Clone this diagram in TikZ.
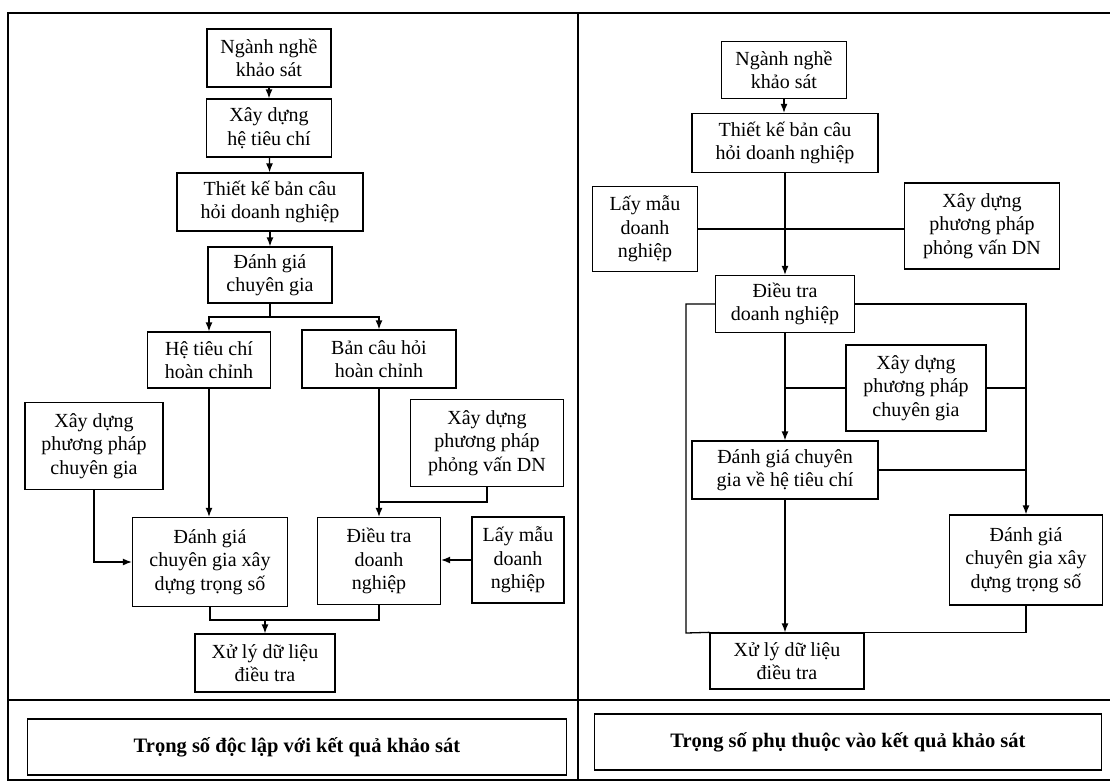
\documentclass[tikz,border=0pt]{standalone}
\usepackage{fontspec}
\setmainfont{Liberation Serif}
\usetikzlibrary{arrows.meta}
\begin{document}
\begin{tikzpicture}[x=1pt, y=-1pt, >={Latex[length=9pt, width=7pt]}, line width=1.3pt,
    font=\fontsize{20}{23.5}\selectfont,
    blk/.style={draw, align=center, inner sep=1pt}]
    \useasboundingbox (0,0) rectangle (1110,782);

    \draw[line width=1.8pt] (1110,13) -- (8,13) -- (8,780) -- (1110,780);
    \draw[line width=1.6pt] (578,13) -- (578,780);
    \draw[line width=1.6pt] (8,700) -- (1110,700);

    \node[blk, minimum width=124pt, minimum height=58pt] (l1) at (269, 58)  {Ngành nghề \\ khảo sát};
    \node[blk, minimum width=125pt, minimum height=58pt] (l2) at (269,128)  {Xây dựng \\ hệ tiêu chí};
    \node[blk, minimum width=186pt, minimum height=58pt] (l3) at (270,202)  {Thiết kế bản câu \\ hỏi doanh nghiệp};
    \node[blk, minimum width=124pt, minimum height=56pt] (l4) at (270,275)  {Đánh giá \\ chuyên gia};
    \node[blk, minimum width=123pt, minimum height=56pt] (l5) at (209,360)  {Hệ tiêu chí \\ hoàn chỉnh};
    \node[blk, minimum width=154pt, minimum height=58pt] (l6) at (379,359)  {Bản câu hỏi \\ hoàn chỉnh};
    \node[blk, minimum width=138pt, minimum height=87pt] (l7) at (94,446)   {Xây dựng \\ phương pháp \\ chuyên gia};
    \node[blk, minimum width=153pt, minimum height=87pt] (l8) at (487,443)  {Xây dựng \\ phương pháp \\ phỏng vấn DN};
    \node[blk, minimum width=155pt, minimum height=89pt] (l9) at (210,562)  {Đánh giá \\ chuyên gia xây \\ dựng trọng số};
    \node[blk, minimum width=123pt, minimum height=87pt] (l10) at (379,561) {Điều tra \\ doanh \\ nghiệp};
    \node[blk, minimum width=92pt, minimum height=86pt] (l11) at (518,560)  {Lấy mẫu \\ doanh \\ nghiệp};
    \node[blk, minimum width=140pt, minimum height=58pt] (l12) at (265,663) {Xử lý dữ liệu \\ điều tra};

    \coordinate (lsplit) at (270,317);
    \coordinate (ljoin) at (379,502);
    \coordinate (lmerge) at (265,620);

    \draw[->] (l1) -- (l2);
    \draw[->] (l2) -- (l3);
    \draw[->] (l3) -- (l4);
    \draw (l4.south) -- (lsplit);
    \draw[->] (lsplit) -| (l5.north);
    \draw[->] (lsplit) -| (l6.north);
    \draw[->] (l5.south) -- (l5.south |- l9.north);
    \draw[->] (l6.south) -- (l10.north);
    \draw (l8.south) |- (ljoin);
    \draw[->] (l7.south) |- (l9.west);
    \draw[->] (l11.west) -- (l10.east |- l11.west);
    \draw (l9.south) |- (lmerge) -| (l10.south);
    \draw[->] (lmerge) -- (l12.north);

    \node[blk, minimum width=125pt, minimum height=57pt] (r1) at (784, 70)   {Ngành nghề \\ khảo sát};
    \node[blk, minimum width=186pt, minimum height=59pt] (r2) at (785,143)   {Thiết kế bản câu \\ hỏi doanh nghiệp};
    \node[blk, minimum width=105pt, minimum height=85pt] (r3) at (645,229)   {Lấy mẫu \\ doanh \\ nghiệp};
    \node[blk, minimum width=155pt, minimum height=86pt] (r4) at (982,226)   {Xây dựng \\ phương pháp \\ phỏng vấn DN};
    \node[blk, minimum width=139pt, minimum height=57pt] (r5) at (785,304)   {Điều tra \\ doanh nghiệp};
    \node[blk, minimum width=140pt, minimum height=86pt] (r6) at (916,388)   {Xây dựng \\ phương pháp \\ chuyên gia};
    \node[blk, minimum width=186pt, minimum height=58pt] (r7) at (785,470)   {Đánh giá chuyên \\ gia về hệ tiêu chí};
    \node[blk, minimum width=153pt, minimum height=90pt] (r8) at (1026,560)  {Đánh giá \\ chuyên gia xây \\ dựng trọng số};
    \node[blk, minimum width=154pt, minimum height=56pt] (r9) at (787,661)   {Xử lý dữ liệu \\ điều tra};

    \coordinate (rleft) at (686,633);

    \draw[->] (r1) -- (r2.north -| r1.south);
    \draw[->] (r2.south) -- (r5.north);
    \draw (r3.east) -- (r4.west |- r3.east);
    \draw (r5.west) -| (rleft) -- (r9.north west);
    \draw[->] (r5.east) -| (r8.north);
    \draw (r6.west) -- (r5.south |- r6.west);
    \draw (r6.east) -- (r8.north |- r6.east);
    \draw (r7.east) -- (r8.north |- r7.east);
    \draw[->] (r5.south) -- (r7.north);
    \draw[->] (r7.south) -- (r7.south |- r9.north);
    \draw (r8.south) |- (r9.north east);

    \node[blk, minimum width=539pt, minimum height=56pt, font=\fontsize{20.5}{24}\selectfont\bfseries]
          (capl) at (297,747) {Trọng số độc lập với kết quả khảo sát};
    \node[blk, minimum width=507pt, minimum height=56pt, font=\fontsize{20.5}{24}\selectfont\bfseries]
          (capr) at (848,742) {Trọng số phụ thuộc vào kết quả khảo sát};
\end{tikzpicture}
\end{document}
